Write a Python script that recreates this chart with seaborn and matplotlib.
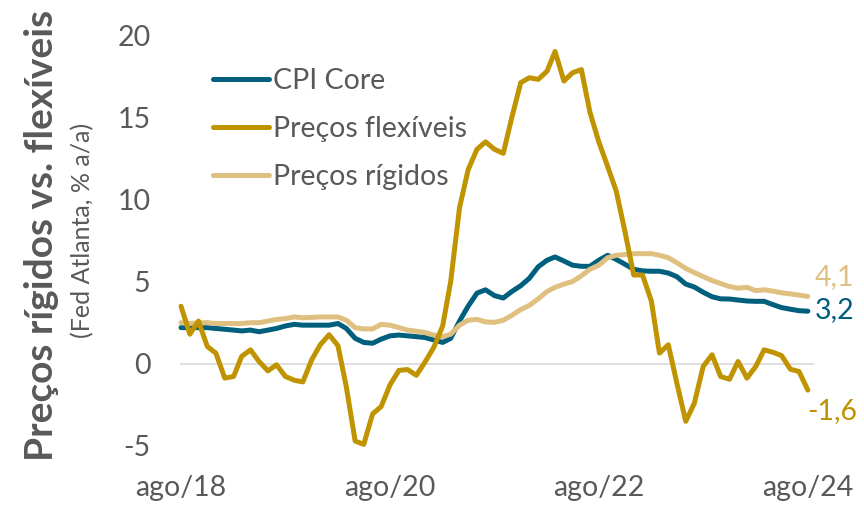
import pandas as pd
import matplotlib.pyplot as plt
import seaborn as sns

# monthly data, ago/18 .. ago/24 (% a/a)
months = pd.date_range('2018-08-01', '2024-08-01', freq='MS')

cpi_core = [2.2, 2.2, 2.2, 2.2, 2.15, 2.1, 2.05, 2.0, 2.05, 1.95, 2.05, 2.15, 2.3, 2.4, 2.35,
            2.35, 2.35, 2.35, 2.45, 2.15, 1.55, 1.3, 1.25, 1.5, 1.7, 1.75, 1.7, 1.65, 1.6, 1.45,
            1.3, 1.55, 2.6, 3.5, 4.3, 4.5, 4.15, 4.0, 4.4, 4.75, 5.2, 5.9, 6.3, 6.5, 6.25,
            6.0, 5.93, 5.93, 6.3, 6.6, 6.35, 6.05, 5.75, 5.65, 5.63, 5.63, 5.52, 5.3, 4.85, 4.67,
            4.35, 4.08, 3.95, 3.94, 3.88, 3.82, 3.8, 3.8, 3.6, 3.42, 3.32, 3.23, 3.2]

flexiveis = [3.5, 1.8, 2.6, 1.05, 0.65, -0.87, -0.77, 0.45, 0.85, 0.14, -0.43, -0.06, -0.77, -1.0, -1.1,
             0.24, 1.16, 1.77, 1.1, -1.4, -4.7, -4.9, -3.05, -2.6, -1.28, -0.4, -0.35, -0.7, 0.1, 1.0,
             2.3, 5.0, 9.5, 11.8, 13.05, 13.5, 13.05, 12.8, 15.0, 17.1, 17.4, 17.3, 17.8, 19.0, 17.2,
             17.7, 17.9, 15.3, 13.5, 12.0, 10.5, 8.0, 5.4, 5.4, 3.8, 0.65, 1.16, -1.18, -3.5, -2.4,
             -0.16, 0.55, -0.77, -0.94, 0.14, -0.87, -0.16, 0.85, 0.7, 0.5, -0.33, -0.47, -1.6]

rigidos = [2.5, 2.45, 2.5, 2.5, 2.45, 2.45, 2.45, 2.45, 2.5, 2.5, 2.6, 2.7, 2.75, 2.85, 2.8,
           2.82, 2.85, 2.85, 2.85, 2.65, 2.2, 2.12, 2.12, 2.4, 2.35, 2.2, 2.05, 1.98, 1.9, 1.75,
           1.65, 1.8, 2.35, 2.65, 2.7, 2.55, 2.52, 2.65, 2.95, 3.3, 3.55, 3.95, 4.4, 4.65, 4.85,
           5.0, 5.35, 5.75, 6.0, 6.45, 6.6, 6.65, 6.7, 6.7, 6.7, 6.6, 6.45, 6.15, 5.8, 5.55,
           5.3, 5.07, 4.88, 4.7, 4.6, 4.65, 4.45, 4.5, 4.42, 4.32, 4.25, 4.18, 4.1]

series_names = ['CPI Core', 'Preços flexíveis', 'Preços rígidos']
series_values = [cpi_core, flexiveis, rigidos]
colors = ['#005F7D', '#C09300', '#E0C080']
label_offsets = [(7, 1), (-1, -21), (7, 19)]
zorders = [2, 4, 3]

tick_dates = pd.to_datetime(['2018-08-01', '2020-08-01', '2022-08-01', '2024-08-01'])
tick_labels = ['ago/18', 'ago/20', 'ago/22', 'ago/24']
y_ticks = [-5, 0, 5, 10, 15, 20]

sns.set_style('white')
plt.rcParams['font.family'] = ['Lato', 'DejaVu Sans']
grey = '#595959'

fig = plt.figure(figsize=(8.64, 5.08), dpi=100)
ax = fig.add_axes([181 / 864, 62 / 508, 632 / 864, 411 / 508])

for name, vals, col, z in zip(series_names, series_values, colors, zorders):
    df = pd.DataFrame({'mes': months, 'valor': vals})
    sns.lineplot(data=df, x='mes', y='valor', color=col, linewidth=3.6, label=name,
                 ax=ax, zorder=z, solid_capstyle='round', solid_joinstyle='round', clip_on=False)

# end-of-series labels
for vals, col, off in zip(series_values, colors, label_offsets):
    txt = f'{vals[-1]:.1f}'.replace('.', ',')
    ax.annotate(txt, xy=(months[-1], vals[-1]), xytext=(off[0], off[1]), textcoords='offset pixels',
                color=col, fontsize=20.5, ha='left', va='center')

ax.set_xlim(months[0], months[-1] + pd.Timedelta(days=18))
ax.set_ylim(-5, 20)
ax.set_yticks(y_ticks)
ax.set_yticklabels([str(v) for v in y_ticks])
ax.set_xticks(tick_dates)
ax.set_xticklabels(tick_labels)
ax.set_xlabel('')
ax.set_ylabel('')

for s in ['top', 'right', 'left']:
    ax.spines[s].set_visible(False)
ax.spines['bottom'].set_position(('data', 0))
ax.spines['bottom'].set_color('#D9D9D9')
ax.spines['bottom'].set_linewidth(1.2)
ax.spines['bottom'].set_zorder(1)

ax.tick_params(axis='y', length=0, pad=22, labelsize=20.5, labelcolor=grey)
ax.tick_params(axis='x', direction='out', length=6, width=1.2, color='#D9D9D9',
               pad=74, labelsize=20.5, labelcolor=grey)

leg = ax.legend(loc='upper left', bbox_to_anchor=(213 / 864, 1 - 68 / 508), bbox_transform=fig.transFigure,
                frameon=False, fontsize=20.5, handlelength=1.95, handletextpad=0.15,
                labelspacing=0.78, borderpad=0, borderaxespad=0)
for t in leg.get_texts():
    t.set_color(grey)

fig.text(42 / 864, 1 - 235 / 508, 'Preços rígidos vs. flexíveis', rotation=90, ha='center', va='center',
         fontsize=28, fontweight='bold', color=grey)
fig.text(83 / 864, 1 - 230 / 508, '(Fed Atlanta, % a/a)', rotation=90, ha='center', va='center',
         fontsize=18, color=grey)

fig.savefig('out.png', dpi=100)
plt.close(fig)
